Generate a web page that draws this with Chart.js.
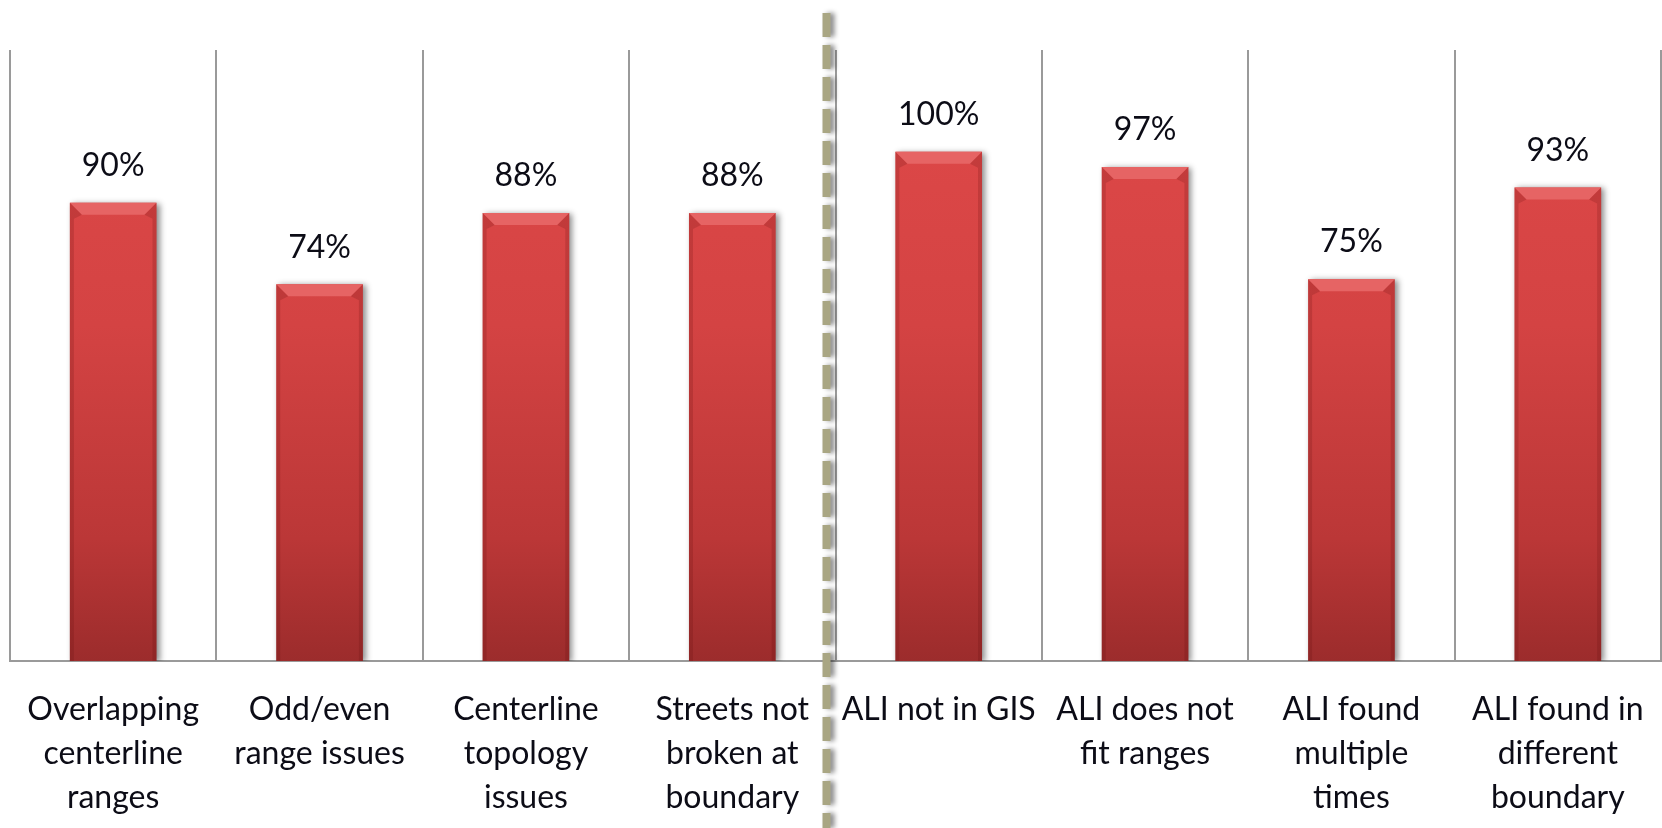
<!DOCTYPE html>
<html>
<head>
<meta charset="utf-8">
<title>GIS / ALI validation</title>
<script src="https://cdn.jsdelivr.net/npm/chart.js@4"></script>
<style>
  html, body { margin: 0; padding: 0; background: #fff; }
  #wrap { width: 1662px; height: 828px; position: relative; }
</style>
</head>
<body>
<div id="wrap"><canvas id="chart"></canvas></div>
<script>
// Chart data
const categories = [
    ['Overlapping', 'centerline', 'ranges'],
    ['Odd/even', 'range issues'],
    ['Centerline', 'topology', 'issues'],
    ['Streets not', 'broken at', 'boundary'],
    ['ALI not in GIS'],
    ['ALI does not', 'fit ranges'],
    ['ALI found', 'multiple', 'times'],
    ['ALI found in', 'different', 'boundary']
];
const values = [0.90, 0.74, 0.88, 0.88, 1.00, 0.97, 0.75, 0.93];
const axisMax = 1.2;
const splitAfter = 3; // dashed divider sits after this category index

const TEXT = '#0c0c16';
const GRID = '#9a9a9a';

Chart.defaults.font.family = 'Lato, "Open Sans", sans-serif';

// Bar fill: vertical red gradient over the plot area
function barFill(context) {
    const chart = context.chart;
    const area = chart.chartArea;
    if (!area) return '#d24040';
    const g = chart.ctx.createLinearGradient(0, area.top, 0, area.bottom);
    g.addColorStop(0, '#e04949');
    g.addColorStop(0.45, '#d44343');
    g.addColorStop(0.8, '#bb3737');
    g.addColorStop(1, '#9c2c2c');
    return g;
}

// Shadows, bevel tops and value labels
const barDecor = {
    id: 'barDecor',
    beforeDatasetsDraw(chart) {
        const ctx = chart.ctx;
        ctx.save();
        ctx.shadowColor = 'rgba(0, 0, 0, 0.45)';
        ctx.shadowBlur = 6;
        ctx.shadowOffsetX = 3;
        ctx.shadowOffsetY = 1;
    },
    afterDatasetsDraw(chart) {
        const ctx = chart.ctx;
        ctx.restore();
        const meta = chart.getDatasetMeta(0);

        ctx.save();
        meta.data.forEach(bar => {
            const x0 = bar.x - bar.width / 2;
            const x1 = bar.x + bar.width / 2;
            const y = bar.y;
            const b = 12;
            // top bevel
            ctx.fillStyle = '#e66464';
            ctx.beginPath();
            ctx.moveTo(x0, y);
            ctx.lineTo(x1, y);
            ctx.lineTo(x1 - b, y + b);
            ctx.lineTo(x0 + b, y + b);
            ctx.closePath();
            ctx.fill();
            // darker side edges
            ctx.fillStyle = 'rgba(90, 10, 10, 0.18)';
            ctx.beginPath();
            ctx.moveTo(x0, y);
            ctx.lineTo(x0 + b, y + b);
            ctx.lineTo(x0 + 4, y + b + 4);
            ctx.lineTo(x0 + 4, bar.base);
            ctx.lineTo(x0, bar.base);
            ctx.closePath();
            ctx.fill();
            ctx.beginPath();
            ctx.moveTo(x1, y);
            ctx.lineTo(x1 - b, y + b);
            ctx.lineTo(x1 - 4, y + b + 4);
            ctx.lineTo(x1 - 4, bar.base);
            ctx.lineTo(x1, bar.base);
            ctx.closePath();
            ctx.fill();
        });

        ctx.font = '32px Lato';
        ctx.fillStyle = TEXT;
        ctx.textAlign = 'center';
        ctx.textBaseline = 'middle';
        meta.data.forEach((bar, i) => {
            ctx.fillText(Math.round(values[i] * 100) + '%', bar.x, bar.y - 37);
        });
        ctx.restore();
    }
};

// Dashed divider between the GIS and ALI groups
const divider = {
    id: 'divider',
    afterDraw(chart) {
        const ctx = chart.ctx;
        const xs = chart.scales.x;
        const x = (xs.getPixelForValue(splitAfter) + xs.getPixelForValue(splitAfter + 1)) / 2 - 9;
        ctx.save();
        ctx.strokeStyle = '#a9a683';
        ctx.lineWidth = 8;
        ctx.setLineDash([24, 8]);
        ctx.shadowColor = 'rgba(0, 0, 0, 0.45)';
        ctx.shadowBlur = 5;
        ctx.shadowOffsetX = 4;
        ctx.beginPath();
        ctx.moveTo(x, 13);
        ctx.lineTo(x, chart.height);
        ctx.stroke();
        ctx.restore();
    }
};

new Chart(document.getElementById('chart'), {
    type: 'bar',
    data: {
        labels: categories,
        datasets: [{
            data: values,
            backgroundColor: barFill,
            borderWidth: 0,
            categoryPercentage: 0.42,
            barPercentage: 1
        }]
    },
    options: {
        responsive: true,
        maintainAspectRatio: false,
        animation: false,
        layout: { padding: { top: 50, left: 10, right: 1, bottom: 0 } },
        plugins: {
            legend: { display: false },
            tooltip: { enabled: false }
        },
        scales: {
            x: {
                afterFit(scale) {
                    scale.height = 167;
                    // labels fit inside their categories, no side padding needed
                    scale.paddingLeft = 0;
                    scale.paddingRight = 0;
                },
                grid: { color: GRID, lineWidth: 2, drawTicks: false, offset: true },
                border: { color: GRID, width: 2 },
                ticks: {
                    color: TEXT,
                    padding: 27,
                    maxRotation: 0,
                    autoSkip: false,
                    font: { size: 32, lineHeight: 1.375 }
                }
            },
            y: {
                display: false,
                min: 0,
                max: axisMax
            }
        }
    },
    plugins: [barDecor, divider]
});
</script>
</body>
</html>
